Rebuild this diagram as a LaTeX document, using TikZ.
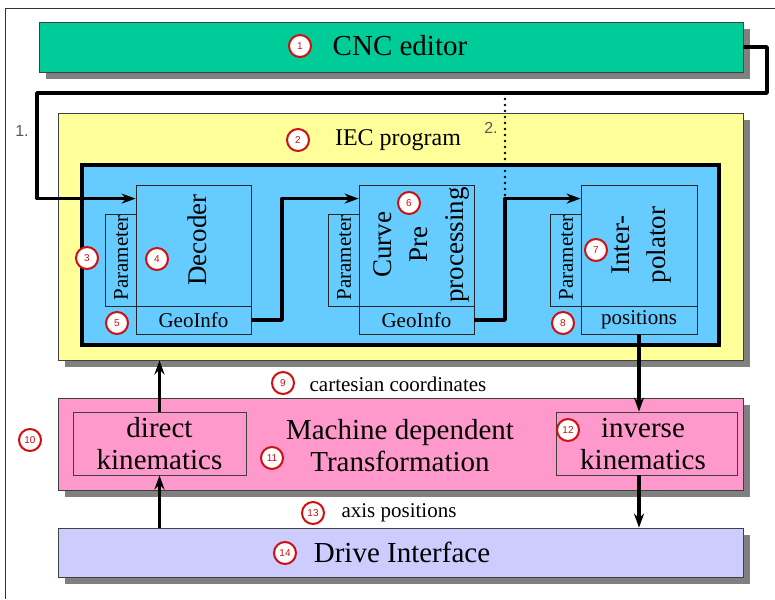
\documentclass[tikz,border=0pt]{standalone}
\usepackage{fontspec}
\setmainfont{Liberation Serif}
\setsansfont{Liberation Sans}
\usetikzlibrary{arrows.meta,shadows}
\definecolor{cnccol}{HTML}{00CC99}
\definecolor{ieccol}{HTML}{FFFF99}
\definecolor{bluecol}{HTML}{66CCFF}
\definecolor{pinkcol}{HTML}{FF99CC}
\definecolor{drivecol}{HTML}{CCCCFF}
\definecolor{shadowcol}{HTML}{808080}
\definecolor{edgecol}{HTML}{404040}
\definecolor{numred}{HTML}{D01010}
\begin{document}
\begin{tikzpicture}[x=1pt,y=-1pt,
  bigbox/.style={draw=edgecol, line width=0.8pt, inner sep=0pt,
    drop shadow={shadow xshift=7pt, shadow yshift=-7pt, fill=shadowcol, opacity=1}},
  innerbox/.style={draw=black!85, line width=0.8pt, inner sep=0pt},
  num/.style={circle, draw=numred, line width=2pt, fill=white, minimum size=22pt,
    inner sep=0pt, text=numred, font=\sffamily\fontsize{10}{10}\selectfont},
  big/.style={font=\fontsize{29}{32}\selectfont},
  mid/.style={font=\fontsize{27}{36}\selectfont},
  small/.style={font=\fontsize{21}{24}\selectfont},
  steplabel/.style={text=black!65, font=\sffamily\fontsize{16}{16}\selectfont},
  conn/.style={line width=3.5pt, line join=round, -{Stealth[length=14pt,width=10pt]}},
  dotline/.style={line width=2.8pt, line cap=round, dash pattern=on 0pt off 6pt}
]
\useasboundingbox (0,0) rectangle (775,599);
% outer frame
\draw[black!80, line width=0.8pt] (5,599) -- (5,8) -- (775,8);

% big boxes
\node[bigbox, fill=cnccol, minimum width=704pt, minimum height=50pt] (cnc) at (391,47) {};
\node[bigbox, fill=ieccol, minimum width=685pt, minimum height=247pt] (iec) at (400.5,236.5) {};
\node[draw=black, line width=3.8pt, fill=bluecol, minimum width=637pt, minimum height=180pt, inner sep=0pt] (blue) at (400.5,255) {};
\node[bigbox, fill=pinkcol, minimum width=685pt, minimum height=92pt] (mdt) at (400.5,444) {};
\node[bigbox, fill=drivecol, minimum width=685pt, minimum height=49pt] (drive) at (400.5,552.5) {};

% titles
\node[big] (cnct) at (400,46) {CNC editor};
\node[num] (n1) at (300,46) {1};
\node[font=\fontsize{24}{24}\selectfont] (iect) at (398,140) {IEC program};
\node[num] (n2) at (298,140) {2};
\node[steplabel] (s1) at (22,131) {1.};
\node[steplabel] (s2) at (491,128) {2.};

% Decoder group
\node[innerbox, minimum width=31pt, minimum height=92pt] (par1) at (120.5,260) {};
\node[innerbox, minimum width=115pt, minimum height=121pt] (dec) at (193.5,245.5) {};
\node[innerbox, minimum width=115pt, minimum height=28pt, small] (geo1) at (193.5,320) {GeoInfo};
\node[small, rotate=90] (par1t) at (121,258) {Parameter};
\node[mid, rotate=90] (dect) at (197,240) {Decoder};
\node[num] (n3) at (87,258) {3};
\node[num] (n4) at (157,259) {4};
\node[num] (n5) at (117,323) {5};

% Curve group
\node[innerbox, minimum width=31pt, minimum height=92pt] (par2) at (343.5,260) {};
\node[innerbox, minimum width=115pt, minimum height=121pt] (curve) at (416.5,245.5) {};
\node[innerbox, minimum width=115pt, minimum height=28pt, small] (geo2) at (416.5,320) {GeoInfo};
\node[small, rotate=90] (par2t) at (344,258) {Parameter};
\node[mid, rotate=90, align=center] (curvet) at (421,245) {Curve\\Pre\\processing};
\node[num] (n6) at (409,203) {6};

% Interpolator group
\node[innerbox, minimum width=31pt, minimum height=92pt] (par3) at (565.5,260) {};
\node[innerbox, minimum width=116pt, minimum height=121pt] (interp) at (639,245.5) {};
\node[innerbox, minimum width=116pt, minimum height=28pt, small] (pos) at (639,320) {positions};
\node[small, rotate=90] (par3t) at (566,258) {Parameter};
\node[mid, rotate=90, align=center] (interpt) at (642,245) {Inter-\\polator};
\node[num] (n7) at (596,250) {7};
\node[num] (n8) at (563,323) {8};

% lower part
\node[small] (cart) at (398,384) {cartesian coordinates};
\node[num] (n9) at (283,383) {9};
\node[innerbox, draw=edgecol, fill=pinkcol, minimum width=173pt, minimum height=63pt, big, align=center] (dirk) at (159.5,443.5) {direct\\kinematics};
\node[innerbox, draw=edgecol, fill=pinkcol, minimum width=181pt, minimum height=63pt] (invk) at (646.5,443.5) {};
\node[big, align=center] (invkt) at (643,444) {inverse\\kinematics};
\node[big, align=center] (mdtt) at (400,446) {Machine dependent\\Transformation};
\node[num] (n10) at (30,440) {10};
\node[num] (n11) at (272,458) {11};
\node[num] (n12) at (568,430) {12};
\node[small] (axis) at (399,513) {axis positions};
\node[num] (n13) at (313,513) {13};
\node[big] (drivet) at (402,552) {Drive Interface};
\node[num] (n14) at (285,553) {14};

% connectors
\coordinate (dtop) at (505,93);
\coordinate (dbot) at (505,196);
\draw[dotline] (dtop) -- (dbot);
\draw[conn] (cnc.east) -- (767,47) -- (767,93) -- (37,93) |- ([yshift=-14pt]dec.north west);
\draw[conn] (geo1.east) -- (282,320) |- ([yshift=-14pt]curve.north west);
\draw[conn] (geo2.east) -- (505,320) |- ([yshift=-14pt]interp.north west);
\draw[conn] (pos.south) -- (pos.south |- invk.north);
\draw[conn] (pos.south |- invk.south) -- (pos.south |- drive.north);
\draw[conn] (dirk.south |- drive.north) -- (dirk.south);
\draw[conn] (dirk.north) -- (dirk.north |- iec.south);
\end{tikzpicture}
\end{document}
